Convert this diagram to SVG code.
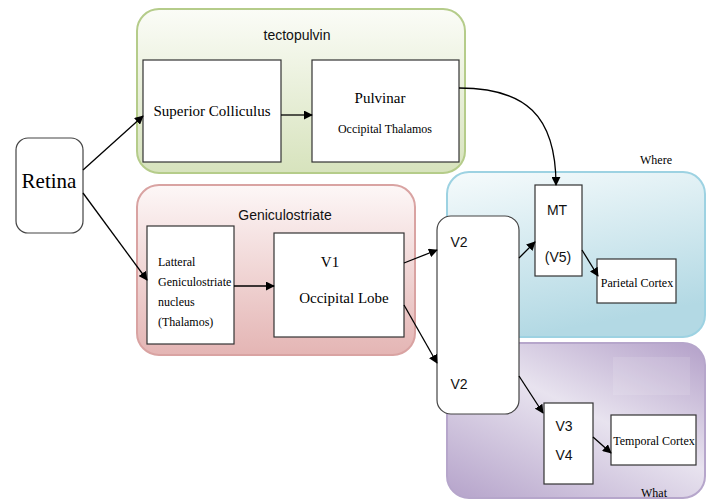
<svg xmlns="http://www.w3.org/2000/svg" width="710" height="502" viewBox="0 0 710 502">
<defs>
<linearGradient id="gGreen" x1="0" y1="0" x2="0" y2="1"><stop offset="0" stop-color="#fbfcf7"/><stop offset="1" stop-color="#d7e3bd"/></linearGradient>
<linearGradient id="gRed" x1="0" y1="0" x2="0" y2="1"><stop offset="0" stop-color="#fdf7f7"/><stop offset="1" stop-color="#e4b5b4"/></linearGradient>
<linearGradient id="gBlue" x1="0" y1="0" x2="0.3" y2="1"><stop offset="0" stop-color="#f6fbfc"/><stop offset="1" stop-color="#b3d9e4"/></linearGradient>
<linearGradient id="gPurple" x1="0.9" y1="0" x2="0.1" y2="1"><stop offset="0" stop-color="#b8a6cc"/><stop offset="0.45" stop-color="#e8e3ef"/><stop offset="1" stop-color="#b9a8cd"/></linearGradient>
<marker id="ah" viewBox="0 0 10 10" refX="9" refY="5" markerWidth="9" markerHeight="9" markerUnits="userSpaceOnUse" orient="auto"><path d="M0,0 L10,5 L0,10 z" fill="#000"/></marker>
</defs>
<style>
.box{fill:#fff;stroke:#333;stroke-width:1.2}
.serif{font-family:"Liberation Serif",serif;fill:#000}
.sans{font-family:"Liberation Sans",Arial,sans-serif;fill:#111}
.con{fill:none;stroke:#000;stroke-width:1.3;marker-end:url(#ah)}
</style>
<rect width="710" height="502" fill="#fff"/>
<g id="group-tectopulvin">
<rect x="137" y="9" width="328" height="164" rx="22" fill="url(#gGreen)" stroke="#b5cc8a" stroke-width="2"/>
<text class="sans" x="297" y="40" font-size="14" text-anchor="middle">tectopulvin</text>
</g>
<g id="group-geniculostriate">
<rect x="137" y="185" width="278" height="170" rx="22" fill="url(#gRed)" stroke="#d9a3a2" stroke-width="2"/>
<text class="sans" x="285" y="220" font-size="14" text-anchor="middle">Geniculostriate</text>
</g>
<g id="group-where">
<rect x="447" y="172" width="258" height="165" rx="22" fill="url(#gBlue)" stroke="#9dd2e2" stroke-width="2"/>
<text class="serif" x="656" y="164" font-size="12" text-anchor="middle">Where</text>
</g>
<g id="group-what">
<rect x="447" y="343" width="258" height="155" rx="22" fill="url(#gPurple)" stroke="#b6a6cb" stroke-width="2"/>
<rect x="613" y="357" width="77" height="38" fill="#ffffff" opacity="0.12"/>
<text class="serif" x="654" y="497" font-size="12" text-anchor="middle">What</text>
</g>
<g id="retina">
<rect x="16" y="138" width="67" height="95" rx="12" fill="#fff" stroke="#444" stroke-width="1.2"/>
<text class="serif" x="49" y="188" font-size="21" text-anchor="middle">Retina</text>
</g>
<g id="superior-colliculus">
<rect class="box" x="143" y="60" width="138" height="102"/>
<text class="serif" x="212" y="116" font-size="15" text-anchor="middle">Superior Colliculus</text>
</g>
<g id="pulvinar">
<rect class="box" x="312" y="60" width="147" height="102"/>
<text class="serif" x="380" y="103" font-size="15" text-anchor="middle">Pulvinar</text>
<text class="serif" x="385" y="133" font-size="12" text-anchor="middle">Occipital Thalamos</text>
</g>
<g id="lgn">
<rect class="box" x="147" y="226" width="87" height="118"/>
<text class="serif" x="158" y="266" font-size="12">Latteral</text>
<text class="serif" x="158" y="286" font-size="12">Geniculostriate</text>
<text class="serif" x="158" y="306" font-size="12">nucleus</text>
<text class="serif" x="158" y="326" font-size="12">(Thalamos)</text>
</g>
<g id="v1">
<rect class="box" x="274" y="233" width="130" height="104"/>
<text class="serif" x="330" y="267" font-size="15" text-anchor="middle">V1</text>
<text class="serif" x="344" y="303" font-size="15" text-anchor="middle">Occipital Lobe</text>
</g>
<g id="v2">
<rect x="437" y="216" width="82" height="198" rx="14" fill="#fff" stroke="#444" stroke-width="1.2"/>
<text class="sans" x="459" y="247" font-size="14" text-anchor="middle">V2</text>
<text class="sans" x="459" y="389" font-size="14" text-anchor="middle">V2</text>
</g>
<g id="mt">
<rect class="box" x="535" y="185" width="47" height="91"/>
<text class="sans" x="557" y="215" font-size="14" text-anchor="middle">MT</text>
<text class="sans" x="558" y="262" font-size="14" text-anchor="middle">(V5)</text>
</g>
<g id="parietal-cortex">
<rect class="box" x="597" y="259" width="79" height="44"/>
<text class="serif" x="637" y="287" font-size="12" text-anchor="middle">Parietal Cortex</text>
</g>
<g id="v3v4">
<rect class="box" x="544" y="403" width="49" height="81"/>
<text class="sans" x="564" y="431" font-size="14" text-anchor="middle">V3</text>
<text class="sans" x="564" y="460" font-size="14" text-anchor="middle">V4</text>
</g>
<g id="temporal-cortex">
<rect class="box" x="611" y="415" width="85" height="50"/>
<text class="serif" x="654" y="445" font-size="12" text-anchor="middle">Temporal Cortex</text>
</g>
<g id="connectors">
<line class="con" x1="83" y1="170" x2="143" y2="116"/>
<line class="con" x1="83" y1="193" x2="147" y2="280"/>
<line class="con" x1="281" y1="115" x2="312" y2="115"/>
<line class="con" x1="234" y1="286" x2="274" y2="286"/>
<line class="con" x1="404" y1="263" x2="437" y2="250"/>
<line class="con" x1="404" y1="305" x2="437" y2="363"/>
<path class="con" d="M459,88 C525,88 556,115 556,185"/>
<line class="con" x1="519" y1="258" x2="535" y2="242"/>
<line class="con" x1="582" y1="250" x2="598" y2="276"/>
<line class="con" x1="519" y1="376" x2="543" y2="413"/>
<line class="con" x1="593" y1="437" x2="611" y2="453"/>
</g>
</svg>
